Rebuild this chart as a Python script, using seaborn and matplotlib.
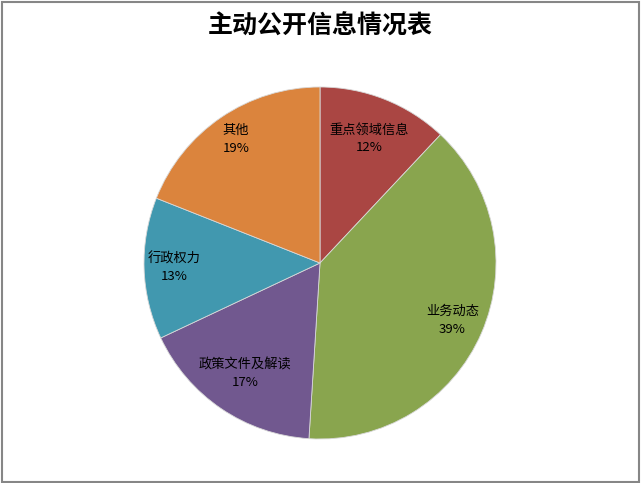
import numpy as np
import matplotlib
matplotlib.use("Agg")
import matplotlib.pyplot as plt
from matplotlib.patches import Rectangle
import seaborn as sns

sns.set_theme(style="white")
plt.rcParams['font.family'] = ['Noto Sans CJK SC', 'DejaVu Sans']

# 主动公开信息分类及占比
categories = ["重点领域信息", "业务动态", "政策文件及解读", "行政权力", "其他"]
shares = [12, 39, 17, 13, 19]
colors = ["#AA4643", "#89A54E", "#71588F", "#4198AF", "#DB843D"]
# radial placement of each label inside its wedge (fraction of radius)
label_radius = [0.76, 0.82, 0.76, 0.83, 0.85]

W, H = 641, 483
fig = plt.figure(figsize=(W / 100, H / 100), dpi=100)
fig.patch.set_facecolor("white")

# pie area: centre (320, 263), radius 176 px
cx, cy, r = 320, 263, 176
ax = fig.add_axes([(cx - r) / W, (H - cy - r) / H, 2 * r / W, 2 * r / H])
wedges, _ = ax.pie(shares, colors=colors, startangle=90, counterclock=False,
                   radius=1.0, wedgeprops=dict(edgecolor="#d8d8d8", linewidth=0.6))
ax.set_xlim(-1, 1)
ax.set_ylim(-1, 1)
ax.set_aspect("equal")
ax.axis("off")

for w, name, val, lr in zip(wedges, categories, shares, label_radius):
    ang = np.deg2rad((w.theta1 + w.theta2) / 2)
    x, y = lr * np.cos(ang), lr * np.sin(ang)
    ax.text(x, y, f"{name}\n{val}%", ha="center", va="center",
            fontsize=9.5, color="black", linespacing=1.45)

fig.text(320 / W, 1 - 27 / H, "主动公开信息情况表", ha="center", va="center",
         fontsize=18, fontweight="bold", color="black")

# outer frame
fig.patches.append(Rectangle((1.5 / W, 1.5 / H), (W - 3.5) / W, (H - 3.5) / H,
                             transform=fig.transFigure, fill=False,
                             edgecolor="#868686", linewidth=1.5))

fig.savefig("out.png", dpi=100, facecolor="white")
